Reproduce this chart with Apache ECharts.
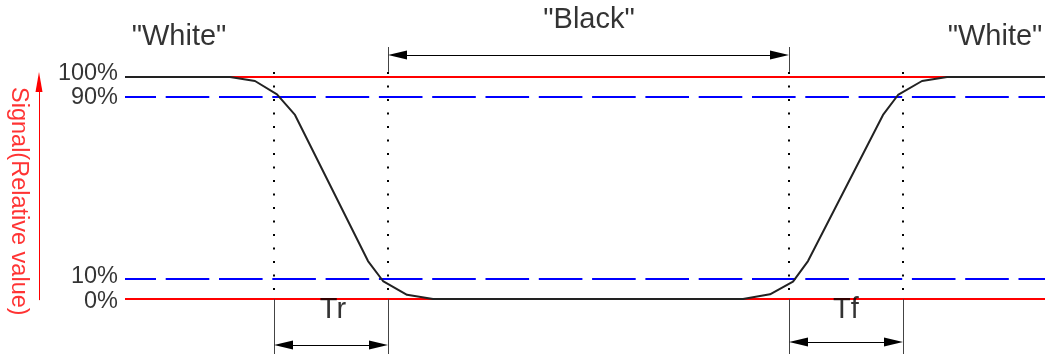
<!DOCTYPE html>
<html>
<head>
<meta charset="utf-8">
<script src="https://cdn.jsdelivr.net/npm/echarts@6/dist/echarts.min.js"></script>
<style>html,body{margin:0;padding:0;background:#fff}#c{width:1045px;height:354px}</style>
</head>
<body>
<div id="c"></div>
<script>
// ---- data ----
const curveX = [0, 105, 130, 152, 170, 243, 258, 282, 308, 618, 645, 668, 683, 758, 773, 797, 822, 920];
const curveY = [100, 100, 98.2, 92.2, 82.9, 17.1, 8.1, 1.9, 0, 0, 2.1, 7.8, 17.1, 82.9, 91.9, 98.2, 100, 100];
const redLevels = [100, 0];
const blueLevels = [91, 9];
const levelValues = [100, 91, 9, 0];
const levelLabels = ['100%', '90%', '10%', '0%'];
const markerX = [149, 263, 664, 778];           // Tr start, Black start, Black end, Tf end
const xStart = 0, xEnd = 920;
const dotTop = 102.3, solidTop = 113.5;
const blackArrowY = 109.9, trArrowY = -20.7, tfArrowY = -19.4;
const noteText = ['"White"', '"Black"', '"White"', 'Tr', 'Tf'];
const noteX = [54, 464, 870, 208, 721];
const noteY = [118, 125.5, 118, -5, -5];
const axisTitle = 'Signal(Relative value)';

// ---- layout ----
const H = 354, yPix0 = 299, pxPerPct = 2.22;
const yMin = -(H - yPix0) / pxPerPct, yMax = 100 + (yPix0 - 100 * pxPerPct) / pxPerPct;
const FONT = '"Liberation Sans", Arial, Helvetica, sans-serif';
const arrowLen = 19, arrowW = 9;
const ax = arrowLen / 2;                 // x units are pixels
const ay = 10 / pxPerPct;                // half of red arrow length in %
const levelLabelDy = [-3, 1, -3, 3];

const seg = (a, b) => [{ coord: a }, { coord: b }];
const ml = (data, lineStyle, symbol, symbolSize) => ({
  silent: true, animation: false, symbol: symbol || 'none', symbolSize: symbolSize || 0,
  label: { show: false }, lineStyle: lineStyle, data: data,
  emphasis: { disabled: true }
});

const bottomY = yMin;
const option = {
  animation: false,
  grid: { left: 0, right: 0, top: 0, bottom: 0 },
  xAxis: { type: 'value', min: -125, max: 920, show: false },
  yAxis: { type: 'value', min: yMin, max: yMax, show: false },
  series: [
    { type: 'line', data: [], z: 1,
      markLine: ml(redLevels.map(v => seg([xStart, v], [xEnd, v])), { color: '#ff0000', width: 2, type: 'solid' }) },
    { type: 'line', data: [], z: 2,
      markLine: ml(blueLevels.map(v => seg([xStart, v], [xEnd, v])), { color: '#0000ff', width: 2, type: [43.6, 9.7], dashOffset: 12.6 }) },
    { type: 'line', data: [], z: 3,
      markLine: ml(markerX.map(m => seg([m, dotTop], [m, 0])), { color: '#000', width: 2, type: [2, 11.5] }) },
    { type: 'line', data: [], z: 3,
      markLine: ml(markerX.map(m => seg([m, 0], [m, bottomY]))
        .concat([seg([markerX[1], solidTop], [markerX[1], dotTop]), seg([markerX[2], solidTop], [markerX[2], dotTop])]),
        { color: '#444', width: 1, type: 'solid' }) },
    { type: 'line', data: [], z: 4,
      markLine: ml([
        seg([markerX[1] + ax, blackArrowY], [markerX[2] - ax, blackArrowY]),
        seg([markerX[0] + ax, trArrowY], [markerX[1] - ax, trArrowY]),
        seg([markerX[2] + ax, tfArrowY], [markerX[3] - ax, tfArrowY])
      ], { color: '#000', width: 1, type: 'solid' }, ['triangle', 'triangle'], [arrowW, arrowLen]) },
    { type: 'line', data: [], z: 4,
      markLine: ml([seg([-86, -0.5], [-86, dotTop - ay])], { color: '#ff0000', width: 1, type: 'solid' }, ['none', 'triangle'], [7, 20]) },
    { type: 'line', z: 5, showSymbol: false, symbol: 'none', silent: true,
      lineStyle: { color: '#222', width: 2 },
      data: curveX.map((x, i) => [x, curveY[i]]) },
    { type: 'scatter', z: 6, symbolSize: 0, silent: true,
      data: levelValues.map((v, i) => ({ value: [0, v], name: levelLabels[i], label: { offset: [0, levelLabelDy[i]] } })),
      label: { show: true, position: 'left', distance: 7, formatter: p => p.name,
        color: '#000', fontSize: 23.5, fontFamily: FONT } },
    { type: 'scatter', z: 6, symbolSize: 0, silent: true,
      data: noteText.map((t, i) => ({ value: [noteX[i], noteY[i]], name: t })),
      label: { show: true, position: 'inside', formatter: p => p.name,
        color: '#000', fontSize: 29, fontFamily: FONT } },
    { type: 'scatter', z: 6, symbolSize: 0, silent: true,
      data: [{ value: [-107, 44], name: axisTitle }],
      label: { show: true, position: 'inside', rotate: -90, formatter: p => p.name,
        color: '#ff0000', fontSize: 23.5, fontFamily: FONT } }
  ]
};
const chart = echarts.init(document.getElementById('c'), null, { renderer: 'canvas' });
chart.setOption(option);
</script>
</body>
</html>
